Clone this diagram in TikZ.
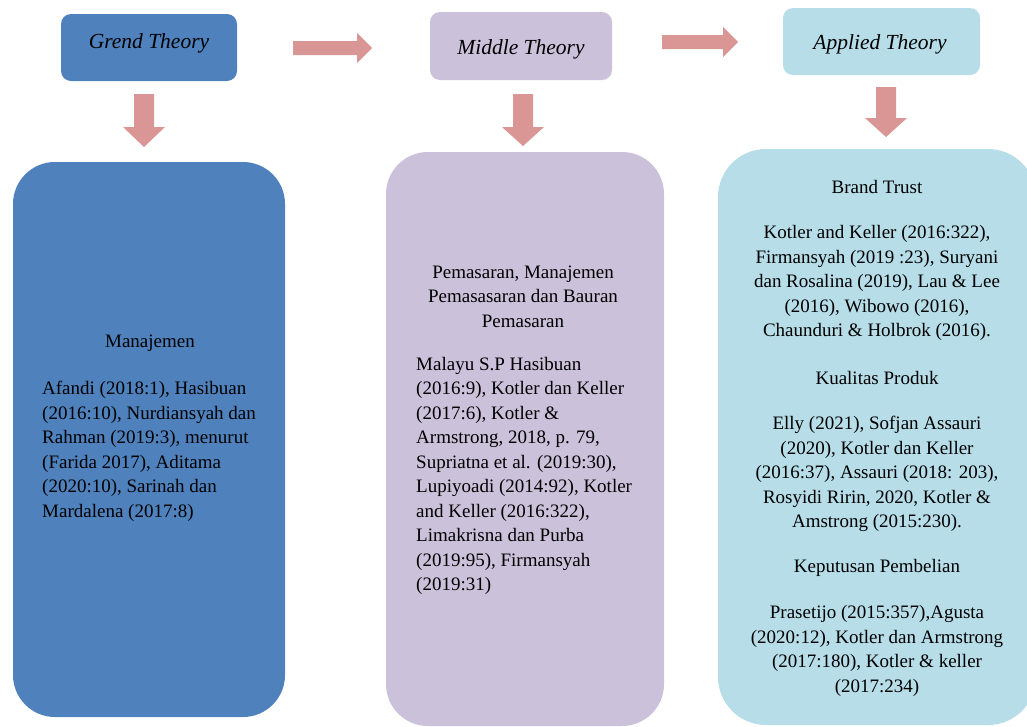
\documentclass[tikz,border=0pt]{standalone}
\usepackage{fontspec}
\setmainfont{Liberation Serif}
\definecolor{boxblue}{HTML}{4F81BD}
\definecolor{boxpurple}{HTML}{CCC1DA}
\definecolor{boxcyan}{HTML}{B7DDE8}
\definecolor{arrowred}{HTML}{D99694}
\tikzset{
  smallbox/.style={rounded corners=10pt, draw=none, inner sep=0pt},
  titletext/.style={inner sep=0pt, font=\fontsize{21.5}{25}\selectfont\itshape},
  bigbox/.style={rounded corners=42pt, draw=none, inner sep=0pt},
  arrowshape/.style={fill=arrowred, draw=none},
  bodytext/.style={inner sep=0pt, font=\fontsize{19}{24.5}\selectfont},
}
\newcommand\mydownarrow[5]{% cx, shaft half, top, shaft bottom, tip
  \fill[arrowshape] (#1-#2,#3) -- (#1+#2,#3) -- (#1+#2,#4) -- (#1+2*#2+1,#4) -- (#1,#5)
    -- (#1-2*#2-1,#4) -- (#1-#2,#4) -- cycle;}
\newcommand\myrightarrow[5]{% left x, cy, half shaft, head start x, tip x
  \fill[arrowshape] (#1,#2-#3) -- (#4,#2-#3) -- (#4,#2-2*#3-1) -- (#5,#2) -- (#4,#2+2*#3+1)
    -- (#4,#2+#3) -- (#1,#2+#3) -- cycle;}
\begin{document}
\begin{tikzpicture}[x=1pt,y=-1pt]
\clip (0,0) rectangle (1027,726);
\fill[white] (0,0) rectangle (1027,726);

% top boxes
\node[smallbox, fill=boxblue, minimum width=176pt, minimum height=67pt] (grendbox) at (149,47.5) {};
\node[smallbox, fill=boxpurple, minimum width=182pt, minimum height=68pt] (middlebox) at (521,46) {};
\node[smallbox, fill=boxcyan, minimum width=197pt, minimum height=67pt] (appliedbox) at (881.5,41.5) {};
\node[titletext] (grend) at (149,43) {Grend Theory};
\node[titletext] (middle) at (521,49) {Middle Theory};
\node[titletext] (applied) at (880,44) {Applied Theory};

% big boxes
\node[bigbox, fill=boxblue, minimum width=272pt, minimum height=555pt] (manbox) at (149,439.5) {};
\node[bigbox, fill=boxpurple, minimum width=278pt, minimum height=574pt] (pembox) at (525,439) {};
\node[bigbox, rounded corners=48pt, fill=boxcyan, minimum width=318pt, minimum height=576pt] (appbox) at (877,437) {};

% arrows
\myrightarrow{293}{48}{7}{357}{372}
\myrightarrow{662}{42}{7}{723}{738}
\mydownarrow{144}{10}{94}{127}{147}
\mydownarrow{523}{10}{94}{127}{146}
\mydownarrow{886}{10}{87}{118}{137}

% box 1 text
\node[bodytext] (manhead) at (150,343) {Manajemen};
\node[bodytext, anchor=west, align=left] (manbody) at (42,451.5) {Afandi (2018:1), Hasibuan\\(2016:10), Nurdiansyah dan\\Rahman (2019:3), menurut\\(Farida 2017), Aditama\\(2020:10), Sarinah dan\\Mardalena (2017:8)};

% box 2 text
\node[bodytext, align=center] (pemhead) at (523,296.5) {Pemasaran, Manajemen\\Pemasasaran dan Bauran\\Pemasaran};
\node[bodytext, anchor=west, align=left] (pembody) at (416,476) {Malayu S.P Hasibuan\\(2016:9), Kotler dan Keller\\(2017:6), Kotler \&\\Armstrong, 2018, p. 79,\\Supriatna et al. (2019:30),\\Lupiyoadi (2014:92), Kotler\\and Keller (2016:322),\\Limakrisna dan Purba\\(2019:95), Firmansyah\\(2019:31)};

% box 3 text
\node[bodytext] (bthead) at (877,187) {Brand Trust};
\node[bodytext, align=center] (btbody) at (877,283) {Kotler and Keller (2016:322),\\Firmansyah (2019 :23), Suryani\\dan Rosalina (2019), Lau \& Lee\\(2016), Wibowo (2016),\\Chaunduri \& Holbrok (2016).};
\node[bodytext] (kphead) at (877,378) {Kualitas Produk};
\node[bodytext, align=center] (kpbody) at (877,474) {Elly (2021), Sofjan Assauri\\(2020), Kotler dan Keller\\(2016:37), Assauri (2018: 203),\\Rosyidi Ririn, 2020, Kotler \&\\Amstrong (2015:230).};
\node[bodytext] (kbhead) at (877,568) {Keputusan Pembelian};
\node[bodytext, align=center] (kbbody) at (877,651) {Prasetijo (2015:357),Agusta\\(2020:12), Kotler dan Armstrong\\(2017:180), Kotler \& keller\\(2017:234)};
\end{tikzpicture}
\end{document}
